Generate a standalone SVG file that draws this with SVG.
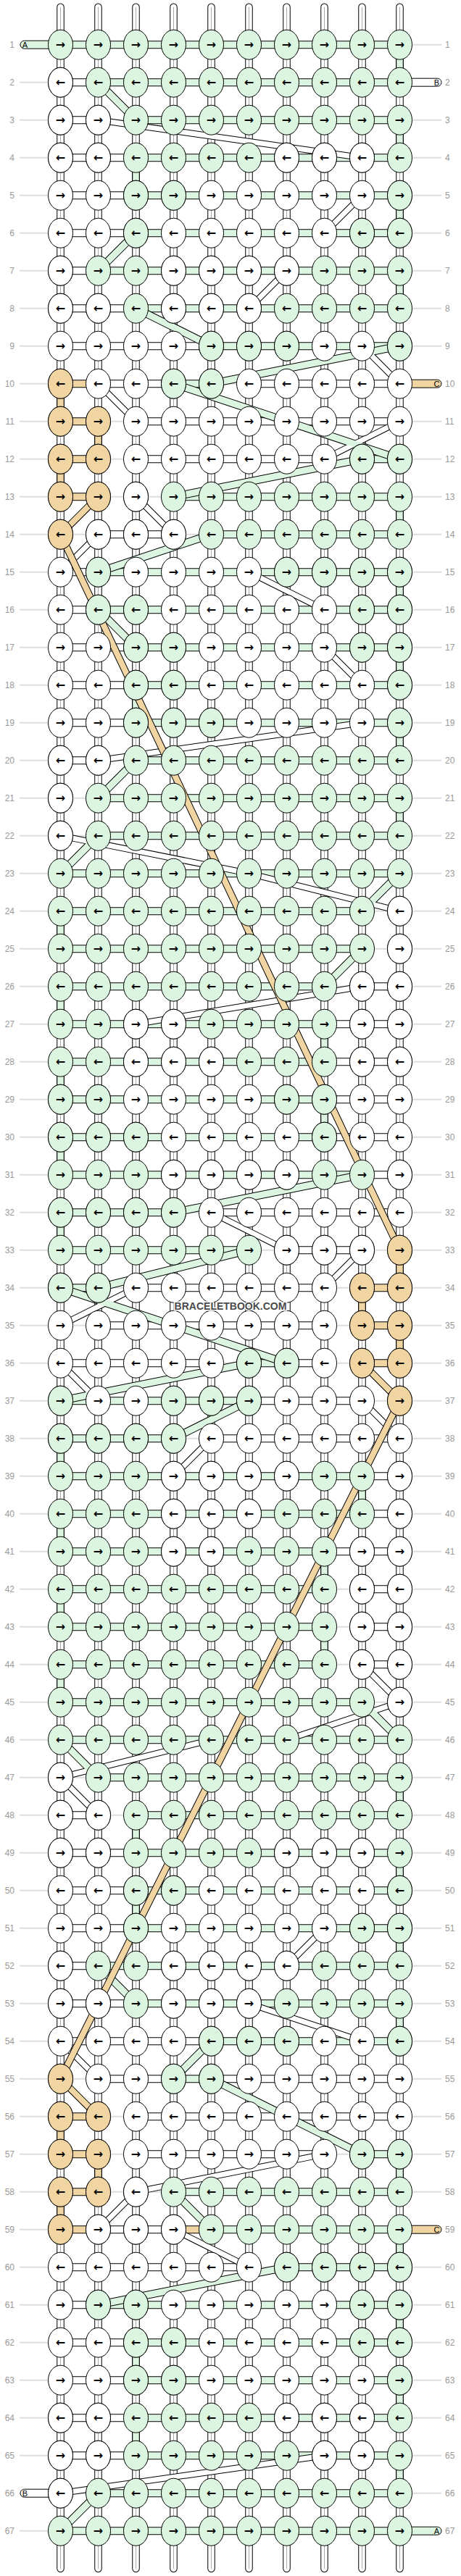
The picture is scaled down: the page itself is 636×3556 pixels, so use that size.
<svg xmlns="http://www.w3.org/2000/svg" xmlns:xlink="http://www.w3.org/1999/xlink" width="636" height="3556" viewBox="0 0 636 3556">
<style>
.a{font:bold 16px "DejaVu Sans",sans-serif;text-anchor:middle;fill:#000}
.n{font:12px "Liberation Sans",Arial,sans-serif;fill:#999;text-anchor:end}
.m{font:12px "Liberation Sans",Arial,sans-serif;fill:#999}
.c{font:11px "Liberation Sans",Arial,sans-serif;text-anchor:middle;fill:#000}
.wm{font:bold 14px "Liberation Sans",Arial,sans-serif;fill:#4a4a4a;stroke:#fff;stroke-width:3px;paint-order:stroke;text-anchor:middle}
</style>
<defs>
<pattern id="gl" width="600" height="52" patternUnits="userSpaceOnUse" y="26"><path d="M0 26H600" stroke="#bbb" stroke-width="1"/></pattern>
<ellipse id="g" rx="17" ry="20.5" fill="#dcf5e1" stroke="#000"/>
<ellipse id="w" rx="17" ry="20.5" fill="#fff" stroke="#000"/>
<ellipse id="o" rx="17" ry="20.5" fill="#f0d5a2" stroke="#000"/>
<g id="G"><use href="#g" x="52"/><use href="#g" x="104"/><use href="#g" x="156"/><use href="#g" x="208"/><use href="#g" x="260"/><use href="#g" x="312"/><use href="#g" x="364"/><use href="#g" x="416"/><use href="#g" x="468"/><use href="#g" x="520"/></g>
<g id="W"><use href="#w" x="52"/><use href="#w" x="104"/><use href="#w" x="156"/><use href="#w" x="208"/><use href="#w" x="260"/><use href="#w" x="312"/><use href="#w" x="364"/><use href="#w" x="416"/><use href="#w" x="468"/><use href="#w" x="520"/></g>
</defs>
<rect width="636" height="3556" fill="#fff"/>
<g transform="translate(31.5 9.7)">
<g id="connectors" fill="none">
<rect x="-4.5" y="26" width="582" height="3484" fill="url(#gl)"/>
<g stroke="#000" stroke-width="10.5" stroke-linecap="round"><path id="tb" d="M52 0V3536M104 0V3536M156 0V3536M208 0V3536M260 0V3536M312 0V3536M364 0V3536M416 0V3536M468 0V3536M520 0V3536"/></g>
<use href="#tb" stroke="#fff" stroke-width="8.5" stroke-linecap="round"/>
<use href="#tb" stroke="#aaa" stroke-width="1"/>
<g stroke="#000" stroke-width="10.5"><path id="vg" d="M520 52V104M520 156V208M156 208V260M520 260V312M520 364V416M520 676V728M520 780V832M520 884V936M156 936V988M520 988V1040M520 1092V1144M52 1248V1300M52 1352V1404M416 1404V1456M52 1456V1508M416 1508V1560M52 1560V1612M52 1664V1716M52 1976V2028M468 2028V2080M52 2080V2132M416 2132V2184M52 2184V2236M416 2236V2288M52 2288V2340M520 2444V2496M156 2496V2548M520 2548V2600M156 2600V2652M520 2652V2704M520 2756V2808M520 2964V3016M520 3068V3120M520 3172V3224M156 3224V3276M520 3276V3328M156 3328V3380M520 3380V3432"/><path id="vo" d="M52 520V572M104 572V624M52 624V676M520 1716V1768M468 1768V1820M520 1820V1872M52 2912V2964M104 2964V3016M52 3016V3068"/></g>
<use href="#vg" stroke="#dcf5e1" stroke-width="8.5"/>
<use href="#vo" stroke="#f0d5a2" stroke-width="8.5"/>
<g stroke="#000" stroke-width="11"><path id="hw" d="M52 104H104M52 156H104M52 208H156M52 260H156M52 312H156M52 364H104M52 416H156M52 468H260M104 520H208M312 520H520M156 572H520M156 624H416M104 728H208M52 780H104M52 832H104M52 884H156M52 936H156M52 988H156M52 1040H104M468 1352H520M416 1404H520M416 1456H520M416 1508H520M416 1560H520M468 1612H520M260 1664H520M364 1716H468M156 1768H416M104 1820H416M52 1872H260M364 1872H416M312 1924H468M260 1976H520M468 2028H520M468 2080H520M416 2132H520M468 2184H520M468 2236H520M468 2288H520M52 2496H104M52 2548H156M52 2600H156M52 2652H156M52 2704H104M52 2756H156M52 2808H260M104 2860H208M260 2860H520M156 2912H520M156 2964H416M104 3068H208M52 3120H312M52 3172H104M52 3224H156M52 3276H156M52 3328H156M52 3380H156"/><path id="hg" d="M52 52H520M104 104H520M156 156H520M156 208H520M156 260H520M156 312H520M104 364H520M156 416H520M260 468H520M208 520H260M468 624H520M208 676H520M260 728H520M104 780H520M104 832H520M156 884H520M156 936H520M156 988H520M156 1040H520M104 1092H520M104 1144H520M52 1196H520M52 1248H468M52 1300H468M52 1352H416M52 1404H416M52 1456H416M52 1508H416M52 1560H416M52 1612H468M52 1664H208M52 1716H312M52 1768H104M312 1872H364M52 1924H312M52 1976H208M52 2028H468M52 2080H468M52 2132H416M52 2184H416M52 2236H416M52 2288H416M52 2340H468M52 2392H520M104 2444H520M156 2496H520M156 2548H520M156 2600H520M156 2652H520M104 2704H520M156 2756H520M260 2808H520M208 2860H260M468 2964H520M208 3016H520M260 3068H520M364 3120H520M104 3172H520M156 3224H520M156 3276H520M156 3328H520M156 3380H520M104 3432H520M52 3484H520"/><path id="ho" d="M52 520H104M52 572H104M52 624H104M52 676H104M468 1768H520M468 1820H520M468 1872H520M52 2912H104M52 2964H104M52 3016H104M52 3068H104M208 3068H260"/></g>
<use href="#hw" stroke="#fff" stroke-width="9"/>
<use href="#hg" stroke="#dcf5e1" stroke-width="9"/>
<use href="#ho" stroke="#f0d5a2" stroke-width="9"/>
<g stroke="#000" stroke-width="11" stroke-linejoin="round"><path id="dg" d="M104 104L156 156M156 312L104 364M156 416L260 468M520 468L260 520M208 520L520 624M468 624L208 676M260 728L104 780M104 832L156 884M156 1040L104 1092M104 1144L52 1196M520 1196L468 1248M468 1300L416 1352M468 1612L208 1664M312 1716L104 1768M52 1768L364 1872M312 1872L52 1924M312 1924L208 1976M468 2340L520 2392M52 2392L104 2444M104 2704L156 2756M260 2808L208 2860M260 2860L468 2964M208 3016L260 3068M364 3120L104 3172M104 3432L52 3484"/></g>
<g stroke="#000" stroke-width="9"><path id="dw" d="M104 156L468 208M468 260L416 312M364 364L312 416M468 468L520 520M104 520L156 572M520 572L416 624M156 676L208 728M104 728L52 780M312 780L416 832M416 884L468 936M468 988L104 1040M52 1144L312 1196M312 1196L520 1248M468 1352L156 1404M260 1664L364 1716M468 1716L416 1768M156 1768L52 1820M52 1872L104 1924M468 1924L520 1976M260 1976L208 2028M468 2288L520 2340M520 2340L364 2392M260 2392L52 2444M52 2444L104 2496M416 2652L364 2704M312 2756L468 2808M52 2808L104 2860M416 2964L156 3016M156 3016L104 3068M208 3068L312 3120M416 3380L52 3432"/></g>
<use href="#dw" stroke="#fff" stroke-width="7"/>
<use href="#dg" stroke="#dcf5e1" stroke-width="9"/>
<g stroke="#000" stroke-width="10" stroke-linejoin="round"><path id="do" d="M104 676L52 728L520 1716M468 1872L520 1924L52 2860L104 2912"/></g>
<use href="#do" stroke="#f0d5a2" stroke-width="8" stroke-linejoin="round"/>
<g stroke="#000" stroke-width="1">
<rect x="-3.5" y="46.5" width="65" height="11" rx="5.5" fill="#dcf5e1"/>
<rect x="510" y="98.5" width="67.5" height="11" rx="5.5" fill="#fff"/>
<rect x="510" y="514.5" width="67.5" height="11" rx="5.5" fill="#f0d5a2"/>
<rect x="510" y="3062.5" width="67.5" height="11" rx="5.5" fill="#f0d5a2"/>
<rect x="-3.5" y="3426.5" width="65" height="11" rx="5.5" fill="#fff"/>
<rect x="510" y="3478.5" width="67.5" height="11" rx="5.5" fill="#dcf5e1"/>
</g>
<text class="c" x="3" y="56">A</text>
<text class="c" x="571" y="108">B</text>
<text class="c" x="571" y="524">C</text>
<text class="c" x="571" y="3072">C</text>
<text class="c" x="3" y="3436">B</text>
<text class="c" x="571" y="3488">A</text>
</g>
<g id="row-1" transform="translate(0 52)"><use href="#G"/><text class="a" x="52 104 156 208 260 312 364 416 468 520" y="5.5">→→→→→→→→→→</text><text class="n" x="-11.5" y="4.3">1</text><text class="m" x="582.5" y="4.3">1</text></g>
<g id="row-2" transform="translate(0 104)"><use href="#G"/><use href="#w" x="52"/><text class="a" x="52 104 156 208 260 312 364 416 468 520" y="5.5">←←←←←←←←←←</text><text class="n" x="-11.5" y="4.3">2</text><text class="m" x="582.5" y="4.3">2</text></g>
<g id="row-3" transform="translate(0 156)"><use href="#G"/><use href="#w" x="52"/><use href="#w" x="104"/><text class="a" x="52 104 156 208 260 312 364 416 468 520" y="5.5">→→→→→→→→→→</text><text class="n" x="-11.5" y="4.3">3</text><text class="m" x="582.5" y="4.3">3</text></g>
<g id="row-4" transform="translate(0 208)"><use href="#G"/><use href="#w" x="52"/><use href="#w" x="104"/><use href="#w" x="364"/><use href="#w" x="416"/><use href="#w" x="468"/><text class="a" x="52 104 156 208 260 312 364 416 468 520" y="5.5">←←←←←←←←←←</text><text class="n" x="-11.5" y="4.3">4</text><text class="m" x="582.5" y="4.3">4</text></g>
<g id="row-5" transform="translate(0 260)"><use href="#W"/><use href="#g" x="156"/><use href="#g" x="208"/><use href="#g" x="520"/><text class="a" x="52 104 156 208 260 312 364 416 468 520" y="5.5">→→→→→→→→→→</text><text class="n" x="-11.5" y="4.3">5</text><text class="m" x="582.5" y="4.3">5</text></g>
<g id="row-6" transform="translate(0 312)"><use href="#W"/><use href="#g" x="156"/><use href="#g" x="468"/><use href="#g" x="520"/><text class="a" x="52 104 156 208 260 312 364 416 468 520" y="5.5">←←←←←←←←←←</text><text class="n" x="-11.5" y="4.3">6</text><text class="m" x="582.5" y="4.3">6</text></g>
<g id="row-7" transform="translate(0 364)"><use href="#G"/><use href="#w" x="52"/><use href="#w" x="208"/><use href="#w" x="260"/><use href="#w" x="312"/><use href="#w" x="364"/><text class="a" x="52 104 156 208 260 312 364 416 468 520" y="5.5">→→→→→→→→→→</text><text class="n" x="-11.5" y="4.3">7</text><text class="m" x="582.5" y="4.3">7</text></g>
<g id="row-8" transform="translate(0 416)"><use href="#G"/><use href="#w" x="52"/><use href="#w" x="104"/><use href="#w" x="208"/><use href="#w" x="260"/><use href="#w" x="312"/><text class="a" x="52 104 156 208 260 312 364 416 468 520" y="5.5">←←←←←←←←←←</text><text class="n" x="-11.5" y="4.3">8</text><text class="m" x="582.5" y="4.3">8</text></g>
<g id="row-9" transform="translate(0 468)"><use href="#W"/><use href="#g" x="260"/><use href="#g" x="312"/><use href="#g" x="364"/><use href="#g" x="520"/><text class="a" x="52 104 156 208 260 312 364 416 468 520" y="5.5">→→→→→→→→→→</text><text class="n" x="-11.5" y="4.3">9</text><text class="m" x="582.5" y="4.3">9</text></g>
<g id="row-10" transform="translate(0 520)"><use href="#W"/><use href="#o" x="52"/><use href="#g" x="208"/><use href="#g" x="260"/><text class="a" x="52 104 156 208 260 312 364 416 468 520" y="5.5">←←←←←←←←←←</text><text class="n" x="-11.5" y="4.3">10</text><text class="m" x="582.5" y="4.3">10</text></g>
<g id="row-11" transform="translate(0 572)"><use href="#W"/><use href="#o" x="52"/><use href="#o" x="104"/><text class="a" x="52 104 156 208 260 312 364 416 468 520" y="5.5">→→→→→→→→→→</text><text class="n" x="-11.5" y="4.3">11</text><text class="m" x="582.5" y="4.3">11</text></g>
<g id="row-12" transform="translate(0 624)"><use href="#W"/><use href="#o" x="52"/><use href="#o" x="104"/><use href="#g" x="468"/><use href="#g" x="520"/><text class="a" x="52 104 156 208 260 312 364 416 468 520" y="5.5">←←←←←←←←←←</text><text class="n" x="-11.5" y="4.3">12</text><text class="m" x="582.5" y="4.3">12</text></g>
<g id="row-13" transform="translate(0 676)"><use href="#G"/><use href="#o" x="52"/><use href="#o" x="104"/><use href="#w" x="156"/><text class="a" x="52 104 156 208 260 312 364 416 468 520" y="5.5">→→→→→→→→→→</text><text class="n" x="-11.5" y="4.3">13</text><text class="m" x="582.5" y="4.3">13</text></g>
<g id="row-14" transform="translate(0 728)"><use href="#G"/><use href="#o" x="52"/><use href="#w" x="104"/><use href="#w" x="156"/><use href="#w" x="208"/><text class="a" x="52 104 156 208 260 312 364 416 468 520" y="5.5">←←←←←←←←←←</text><text class="n" x="-11.5" y="4.3">14</text><text class="m" x="582.5" y="4.3">14</text></g>
<g id="row-15" transform="translate(0 780)"><use href="#W"/><use href="#g" x="104"/><use href="#g" x="364"/><use href="#g" x="416"/><use href="#g" x="468"/><use href="#g" x="520"/><text class="a" x="52 104 156 208 260 312 364 416 468 520" y="5.5">→→→→→→→→→→</text><text class="n" x="-11.5" y="4.3">15</text><text class="m" x="582.5" y="4.3">15</text></g>
<g id="row-16" transform="translate(0 832)"><use href="#W"/><use href="#g" x="104"/><use href="#g" x="156"/><use href="#g" x="468"/><use href="#g" x="520"/><text class="a" x="52 104 156 208 260 312 364 416 468 520" y="5.5">←←←←←←←←←←</text><text class="n" x="-11.5" y="4.3">16</text><text class="m" x="582.5" y="4.3">16</text></g>
<g id="row-17" transform="translate(0 884)"><use href="#W"/><use href="#g" x="156"/><use href="#g" x="208"/><use href="#g" x="468"/><use href="#g" x="520"/><text class="a" x="52 104 156 208 260 312 364 416 468 520" y="5.5">→→→→→→→→→→</text><text class="n" x="-11.5" y="4.3">17</text><text class="m" x="582.5" y="4.3">17</text></g>
<g id="row-18" transform="translate(0 936)"><use href="#W"/><use href="#g" x="156"/><use href="#g" x="208"/><use href="#g" x="520"/><text class="a" x="52 104 156 208 260 312 364 416 468 520" y="5.5">←←←←←←←←←←</text><text class="n" x="-11.5" y="4.3">18</text><text class="m" x="582.5" y="4.3">18</text></g>
<g id="row-19" transform="translate(0 988)"><use href="#W"/><use href="#g" x="156"/><use href="#g" x="208"/><use href="#g" x="260"/><use href="#g" x="520"/><text class="a" x="52 104 156 208 260 312 364 416 468 520" y="5.5">→→→→→→→→→→</text><text class="n" x="-11.5" y="4.3">19</text><text class="m" x="582.5" y="4.3">19</text></g>
<g id="row-20" transform="translate(0 1040)"><use href="#G"/><use href="#w" x="52"/><use href="#w" x="104"/><text class="a" x="52 104 156 208 260 312 364 416 468 520" y="5.5">←←←←←←←←←←</text><text class="n" x="-11.5" y="4.3">20</text><text class="m" x="582.5" y="4.3">20</text></g>
<g id="row-21" transform="translate(0 1092)"><use href="#G"/><use href="#w" x="52"/><text class="a" x="52 104 156 208 260 312 364 416 468 520" y="5.5">→→→→→→→→→→</text><text class="n" x="-11.5" y="4.3">21</text><text class="m" x="582.5" y="4.3">21</text></g>
<g id="row-22" transform="translate(0 1144)"><use href="#G"/><use href="#w" x="52"/><text class="a" x="52 104 156 208 260 312 364 416 468 520" y="5.5">←←←←←←←←←←</text><text class="n" x="-11.5" y="4.3">22</text><text class="m" x="582.5" y="4.3">22</text></g>
<g id="row-23" transform="translate(0 1196)"><use href="#G"/><text class="a" x="52 104 156 208 260 312 364 416 468 520" y="5.5">→→→→→→→→→→</text><text class="n" x="-11.5" y="4.3">23</text><text class="m" x="582.5" y="4.3">23</text></g>
<g id="row-24" transform="translate(0 1248)"><use href="#G"/><use href="#w" x="520"/><text class="a" x="52 104 156 208 260 312 364 416 468 520" y="5.5">←←←←←←←←←←</text><text class="n" x="-11.5" y="4.3">24</text><text class="m" x="582.5" y="4.3">24</text></g>
<g id="row-25" transform="translate(0 1300)"><use href="#G"/><use href="#w" x="520"/><text class="a" x="52 104 156 208 260 312 364 416 468 520" y="5.5">→→→→→→→→→→</text><text class="n" x="-11.5" y="4.3">25</text><text class="m" x="582.5" y="4.3">25</text></g>
<g id="row-26" transform="translate(0 1352)"><use href="#G"/><use href="#w" x="468"/><use href="#w" x="520"/><text class="a" x="52 104 156 208 260 312 364 416 468 520" y="5.5">←←←←←←←←←←</text><text class="n" x="-11.5" y="4.3">26</text><text class="m" x="582.5" y="4.3">26</text></g>
<g id="row-27" transform="translate(0 1404)"><use href="#G"/><use href="#w" x="156"/><use href="#w" x="208"/><use href="#w" x="468"/><use href="#w" x="520"/><text class="a" x="52 104 156 208 260 312 364 416 468 520" y="5.5">→→→→→→→→→→</text><text class="n" x="-11.5" y="4.3">27</text><text class="m" x="582.5" y="4.3">27</text></g>
<g id="row-28" transform="translate(0 1456)"><use href="#G"/><use href="#w" x="156"/><use href="#w" x="208"/><use href="#w" x="260"/><use href="#w" x="468"/><use href="#w" x="520"/><text class="a" x="52 104 156 208 260 312 364 416 468 520" y="5.5">←←←←←←←←←←</text><text class="n" x="-11.5" y="4.3">28</text><text class="m" x="582.5" y="4.3">28</text></g>
<g id="row-29" transform="translate(0 1508)"><use href="#W"/><use href="#g" x="52"/><use href="#g" x="104"/><use href="#g" x="364"/><use href="#g" x="416"/><text class="a" x="52 104 156 208 260 312 364 416 468 520" y="5.5">→→→→→→→→→→</text><text class="n" x="-11.5" y="4.3">29</text><text class="m" x="582.5" y="4.3">29</text></g>
<g id="row-30" transform="translate(0 1560)"><use href="#W"/><use href="#g" x="52"/><use href="#g" x="104"/><use href="#g" x="156"/><use href="#g" x="416"/><text class="a" x="52 104 156 208 260 312 364 416 468 520" y="5.5">←←←←←←←←←←</text><text class="n" x="-11.5" y="4.3">30</text><text class="m" x="582.5" y="4.3">30</text></g>
<g id="row-31" transform="translate(0 1612)"><use href="#G"/><use href="#w" x="208"/><use href="#w" x="260"/><use href="#w" x="312"/><use href="#w" x="364"/><use href="#w" x="520"/><text class="a" x="52 104 156 208 260 312 364 416 468 520" y="5.5">→→→→→→→→→→</text><text class="n" x="-11.5" y="4.3">31</text><text class="m" x="582.5" y="4.3">31</text></g>
<g id="row-32" transform="translate(0 1664)"><use href="#W"/><use href="#g" x="52"/><use href="#g" x="104"/><use href="#g" x="156"/><use href="#g" x="208"/><text class="a" x="52 104 156 208 260 312 364 416 468 520" y="5.5">←←←←←←←←←←</text><text class="n" x="-11.5" y="4.3">32</text><text class="m" x="582.5" y="4.3">32</text></g>
<g id="row-33" transform="translate(0 1716)"><use href="#G"/><use href="#w" x="364"/><use href="#w" x="416"/><use href="#w" x="468"/><use href="#o" x="520"/><text class="a" x="52 104 156 208 260 312 364 416 468 520" y="5.5">→→→→→→→→→→</text><text class="n" x="-11.5" y="4.3">33</text><text class="m" x="582.5" y="4.3">33</text></g>
<g id="row-34" transform="translate(0 1768)"><use href="#W"/><use href="#g" x="52"/><use href="#g" x="104"/><use href="#o" x="468"/><use href="#o" x="520"/><text class="a" x="52 104 156 208 260 312 364 416 468 520" y="5.5">←←←←←←←←←←</text><text class="n" x="-11.5" y="4.3">34</text><text class="m" x="582.5" y="4.3">34</text></g>
<g id="row-35" transform="translate(0 1820)"><use href="#W"/><use href="#o" x="468"/><use href="#o" x="520"/><text class="a" x="52 104 156 208 260 312 364 416 468 520" y="5.5">→→→→→→→→→→</text><text class="n" x="-11.5" y="4.3">35</text><text class="m" x="582.5" y="4.3">35</text></g>
<g id="row-36" transform="translate(0 1872)"><use href="#W"/><use href="#g" x="312"/><use href="#g" x="364"/><use href="#o" x="468"/><use href="#o" x="520"/><text class="a" x="52 104 156 208 260 312 364 416 468 520" y="5.5">←←←←←←←←←←</text><text class="n" x="-11.5" y="4.3">36</text><text class="m" x="582.5" y="4.3">36</text></g>
<g id="row-37" transform="translate(0 1924)"><use href="#W"/><use href="#g" x="52"/><use href="#g" x="208"/><use href="#g" x="260"/><use href="#g" x="312"/><use href="#o" x="520"/><text class="a" x="52 104 156 208 260 312 364 416 468 520" y="5.5">→→→→→→→→→→</text><text class="n" x="-11.5" y="4.3">37</text><text class="m" x="582.5" y="4.3">37</text></g>
<g id="row-38" transform="translate(0 1976)"><use href="#W"/><use href="#g" x="52"/><use href="#g" x="104"/><use href="#g" x="156"/><use href="#g" x="208"/><text class="a" x="52 104 156 208 260 312 364 416 468 520" y="5.5">←←←←←←←←←←</text><text class="n" x="-11.5" y="4.3">38</text><text class="m" x="582.5" y="4.3">38</text></g>
<g id="row-39" transform="translate(0 2028)"><use href="#G"/><use href="#w" x="208"/><use href="#w" x="260"/><use href="#w" x="312"/><use href="#w" x="364"/><use href="#w" x="520"/><text class="a" x="52 104 156 208 260 312 364 416 468 520" y="5.5">→→→→→→→→→→</text><text class="n" x="-11.5" y="4.3">39</text><text class="m" x="582.5" y="4.3">39</text></g>
<g id="row-40" transform="translate(0 2080)"><use href="#G"/><use href="#w" x="208"/><use href="#w" x="260"/><use href="#w" x="312"/><use href="#w" x="520"/><text class="a" x="52 104 156 208 260 312 364 416 468 520" y="5.5">←←←←←←←←←←</text><text class="n" x="-11.5" y="4.3">40</text><text class="m" x="582.5" y="4.3">40</text></g>
<g id="row-41" transform="translate(0 2132)"><use href="#G"/><use href="#w" x="208"/><use href="#w" x="260"/><use href="#w" x="468"/><use href="#w" x="520"/><text class="a" x="52 104 156 208 260 312 364 416 468 520" y="5.5">→→→→→→→→→→</text><text class="n" x="-11.5" y="4.3">41</text><text class="m" x="582.5" y="4.3">41</text></g>
<g id="row-42" transform="translate(0 2184)"><use href="#G"/><use href="#w" x="468"/><use href="#w" x="520"/><text class="a" x="52 104 156 208 260 312 364 416 468 520" y="5.5">←←←←←←←←←←</text><text class="n" x="-11.5" y="4.3">42</text><text class="m" x="582.5" y="4.3">42</text></g>
<g id="row-43" transform="translate(0 2236)"><use href="#G"/><use href="#w" x="468"/><use href="#w" x="520"/><text class="a" x="52 104 156 208 260 312 364 416 468 520" y="5.5">→→→→→→→→→→</text><text class="n" x="-11.5" y="4.3">43</text><text class="m" x="582.5" y="4.3">43</text></g>
<g id="row-44" transform="translate(0 2288)"><use href="#G"/><use href="#w" x="468"/><use href="#w" x="520"/><text class="a" x="52 104 156 208 260 312 364 416 468 520" y="5.5">←←←←←←←←←←</text><text class="n" x="-11.5" y="4.3">44</text><text class="m" x="582.5" y="4.3">44</text></g>
<g id="row-45" transform="translate(0 2340)"><use href="#G"/><use href="#w" x="520"/><text class="a" x="52 104 156 208 260 312 364 416 468 520" y="5.5">→→→→→→→→→→</text><text class="n" x="-11.5" y="4.3">45</text><text class="m" x="582.5" y="4.3">45</text></g>
<g id="row-46" transform="translate(0 2392)"><use href="#G"/><text class="a" x="52 104 156 208 260 312 364 416 468 520" y="5.5">←←←←←←←←←←</text><text class="n" x="-11.5" y="4.3">46</text><text class="m" x="582.5" y="4.3">46</text></g>
<g id="row-47" transform="translate(0 2444)"><use href="#G"/><use href="#w" x="52"/><text class="a" x="52 104 156 208 260 312 364 416 468 520" y="5.5">→→→→→→→→→→</text><text class="n" x="-11.5" y="4.3">47</text><text class="m" x="582.5" y="4.3">47</text></g>
<g id="row-48" transform="translate(0 2496)"><use href="#G"/><use href="#w" x="52"/><use href="#w" x="104"/><text class="a" x="52 104 156 208 260 312 364 416 468 520" y="5.5">←←←←←←←←←←</text><text class="n" x="-11.5" y="4.3">48</text><text class="m" x="582.5" y="4.3">48</text></g>
<g id="row-49" transform="translate(0 2548)"><use href="#G"/><use href="#w" x="52"/><use href="#w" x="104"/><use href="#w" x="364"/><use href="#w" x="416"/><use href="#w" x="468"/><text class="a" x="52 104 156 208 260 312 364 416 468 520" y="5.5">→→→→→→→→→→</text><text class="n" x="-11.5" y="4.3">49</text><text class="m" x="582.5" y="4.3">49</text></g>
<g id="row-50" transform="translate(0 2600)"><use href="#W"/><use href="#g" x="156"/><use href="#g" x="208"/><use href="#g" x="520"/><text class="a" x="52 104 156 208 260 312 364 416 468 520" y="5.5">←←←←←←←←←←</text><text class="n" x="-11.5" y="4.3">50</text><text class="m" x="582.5" y="4.3">50</text></g>
<g id="row-51" transform="translate(0 2652)"><use href="#W"/><use href="#g" x="156"/><use href="#g" x="468"/><use href="#g" x="520"/><text class="a" x="52 104 156 208 260 312 364 416 468 520" y="5.5">→→→→→→→→→→</text><text class="n" x="-11.5" y="4.3">51</text><text class="m" x="582.5" y="4.3">51</text></g>
<g id="row-52" transform="translate(0 2704)"><use href="#G"/><use href="#w" x="52"/><use href="#w" x="208"/><use href="#w" x="260"/><use href="#w" x="312"/><use href="#w" x="364"/><text class="a" x="52 104 156 208 260 312 364 416 468 520" y="5.5">←←←←←←←←←←</text><text class="n" x="-11.5" y="4.3">52</text><text class="m" x="582.5" y="4.3">52</text></g>
<g id="row-53" transform="translate(0 2756)"><use href="#G"/><use href="#w" x="52"/><use href="#w" x="104"/><use href="#w" x="208"/><use href="#w" x="260"/><use href="#w" x="312"/><text class="a" x="52 104 156 208 260 312 364 416 468 520" y="5.5">→→→→→→→→→→</text><text class="n" x="-11.5" y="4.3">53</text><text class="m" x="582.5" y="4.3">53</text></g>
<g id="row-54" transform="translate(0 2808)"><use href="#W"/><use href="#g" x="260"/><use href="#g" x="312"/><use href="#g" x="364"/><use href="#g" x="520"/><text class="a" x="52 104 156 208 260 312 364 416 468 520" y="5.5">←←←←←←←←←←</text><text class="n" x="-11.5" y="4.3">54</text><text class="m" x="582.5" y="4.3">54</text></g>
<g id="row-55" transform="translate(0 2860)"><use href="#W"/><use href="#o" x="52"/><use href="#g" x="208"/><use href="#g" x="260"/><text class="a" x="52 104 156 208 260 312 364 416 468 520" y="5.5">→→→→→→→→→→</text><text class="n" x="-11.5" y="4.3">55</text><text class="m" x="582.5" y="4.3">55</text></g>
<g id="row-56" transform="translate(0 2912)"><use href="#W"/><use href="#o" x="52"/><use href="#o" x="104"/><text class="a" x="52 104 156 208 260 312 364 416 468 520" y="5.5">←←←←←←←←←←</text><text class="n" x="-11.5" y="4.3">56</text><text class="m" x="582.5" y="4.3">56</text></g>
<g id="row-57" transform="translate(0 2964)"><use href="#W"/><use href="#o" x="52"/><use href="#o" x="104"/><use href="#g" x="468"/><use href="#g" x="520"/><text class="a" x="52 104 156 208 260 312 364 416 468 520" y="5.5">→→→→→→→→→→</text><text class="n" x="-11.5" y="4.3">57</text><text class="m" x="582.5" y="4.3">57</text></g>
<g id="row-58" transform="translate(0 3016)"><use href="#G"/><use href="#o" x="52"/><use href="#o" x="104"/><use href="#w" x="156"/><text class="a" x="52 104 156 208 260 312 364 416 468 520" y="5.5">←←←←←←←←←←</text><text class="n" x="-11.5" y="4.3">58</text><text class="m" x="582.5" y="4.3">58</text></g>
<g id="row-59" transform="translate(0 3068)"><use href="#G"/><use href="#o" x="52"/><use href="#w" x="104"/><use href="#w" x="156"/><use href="#w" x="208"/><text class="a" x="52 104 156 208 260 312 364 416 468 520" y="5.5">→→→→→→→→→→</text><text class="n" x="-11.5" y="4.3">59</text><text class="m" x="582.5" y="4.3">59</text></g>
<g id="row-60" transform="translate(0 3120)"><use href="#W"/><use href="#g" x="364"/><use href="#g" x="416"/><use href="#g" x="468"/><use href="#g" x="520"/><text class="a" x="52 104 156 208 260 312 364 416 468 520" y="5.5">←←←←←←←←←←</text><text class="n" x="-11.5" y="4.3">60</text><text class="m" x="582.5" y="4.3">60</text></g>
<g id="row-61" transform="translate(0 3172)"><use href="#W"/><use href="#g" x="104"/><use href="#g" x="156"/><use href="#g" x="468"/><use href="#g" x="520"/><text class="a" x="52 104 156 208 260 312 364 416 468 520" y="5.5">→→→→→→→→→→</text><text class="n" x="-11.5" y="4.3">61</text><text class="m" x="582.5" y="4.3">61</text></g>
<g id="row-62" transform="translate(0 3224)"><use href="#W"/><use href="#g" x="156"/><use href="#g" x="208"/><use href="#g" x="468"/><use href="#g" x="520"/><text class="a" x="52 104 156 208 260 312 364 416 468 520" y="5.5">←←←←←←←←←←</text><text class="n" x="-11.5" y="4.3">62</text><text class="m" x="582.5" y="4.3">62</text></g>
<g id="row-63" transform="translate(0 3276)"><use href="#W"/><use href="#g" x="156"/><use href="#g" x="208"/><use href="#g" x="520"/><text class="a" x="52 104 156 208 260 312 364 416 468 520" y="5.5">→→→→→→→→→→</text><text class="n" x="-11.5" y="4.3">63</text><text class="m" x="582.5" y="4.3">63</text></g>
<g id="row-64" transform="translate(0 3328)"><use href="#G"/><use href="#w" x="52"/><use href="#w" x="104"/><use href="#w" x="364"/><use href="#w" x="416"/><use href="#w" x="468"/><text class="a" x="52 104 156 208 260 312 364 416 468 520" y="5.5">←←←←←←←←←←</text><text class="n" x="-11.5" y="4.3">64</text><text class="m" x="582.5" y="4.3">64</text></g>
<g id="row-65" transform="translate(0 3380)"><use href="#G"/><use href="#w" x="52"/><use href="#w" x="104"/><use href="#w" x="416"/><use href="#w" x="468"/><text class="a" x="52 104 156 208 260 312 364 416 468 520" y="5.5">→→→→→→→→→→</text><text class="n" x="-11.5" y="4.3">65</text><text class="m" x="582.5" y="4.3">65</text></g>
<g id="row-66" transform="translate(0 3432)"><use href="#G"/><use href="#w" x="52"/><text class="a" x="52 104 156 208 260 312 364 416 468 520" y="5.5">←←←←←←←←←←</text><text class="n" x="-11.5" y="4.3">66</text><text class="m" x="582.5" y="4.3">66</text></g>
<g id="row-67" transform="translate(0 3484)"><use href="#G"/><text class="a" x="52 104 156 208 260 312 364 416 468 520" y="5.5">→→→→→→→→→→</text><text class="n" x="-11.5" y="4.3">67</text><text class="m" x="582.5" y="4.3">67</text></g>
<text class="wm" x="286.5" y="1798.3">BRACELETBOOK.COM</text>
</g>
</svg>
